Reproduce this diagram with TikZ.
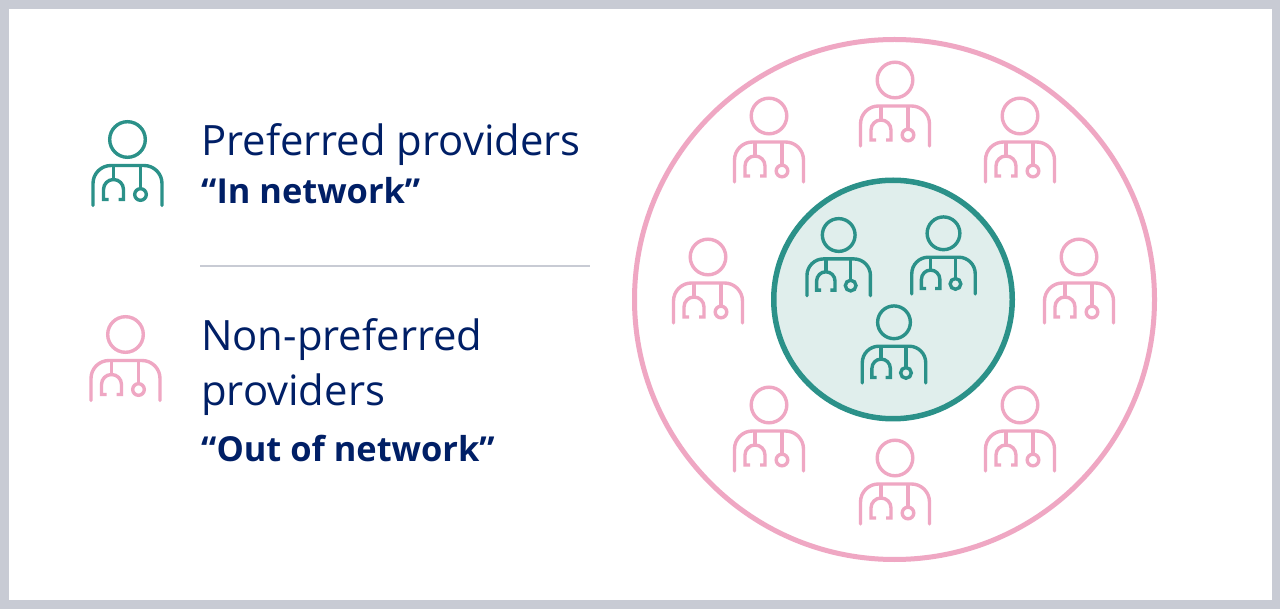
\documentclass[tikz,border=0pt]{standalone}
\usepackage{fontspec}
\setmainfont{Open Sans}
\definecolor{framegray}{HTML}{C8CBD4}
\definecolor{tealline}{HTML}{2B9189}
\definecolor{tealfill}{HTML}{E0EEEC}
\definecolor{pinkline}{HTML}{EFA7C3}
\definecolor{navytext}{HTML}{001F66}
\tikzset{
  doctor/.pic={
    \draw[line width=3.4pt] (0,0) circle (17.8);
    \draw[line width=3.4pt, line cap=round]
      (-34.5,66) -- (-34.5,44) arc[start angle=180, end angle=270, radius=18]
      -- (16.5,26) arc[start angle=270, end angle=360, radius=18] -- (34.5,66);
    \draw[line width=3.4pt] (-14,26) -- (-14,40);
    \draw[line width=3.4pt]
      (-19,60) -- (-24,60) -- (-24,50) arc[start angle=180, end angle=360, radius=10]
      -- (-4,60) -- (-9,60);
    \draw[line width=3.4pt] (13,26) -- (13,49);
    \draw[line width=3.4pt] (13,55) circle (5.8);
  },
  lighttext/.style={anchor=base west, inner sep=0pt, text=navytext, font=\fontsize{41.8}{41.8}\selectfont},
  boldtext/.style={anchor=base west, inner sep=0pt, text=navytext, font=\fontsize{34.4}{34.4}\selectfont\bfseries},
  ring/.style={circle, inner sep=0pt, outer sep=0pt}
}
\begin{document}
\begin{tikzpicture}[x=1pt, y=-1pt]
  \useasboundingbox (0,0) rectangle (1280,609);
  \fill[framegray] (0,0) rectangle (1280,609);
  \fill[white] (9,9) rectangle (1272,600);

  % legend
  \pic[draw=tealline] (legendin) at (127.5,139.5) {doctor};
  \pic[draw=pinkline] (legendout) at (125.5,334.5) {doctor};
  \node[lighttext] (preferred) at (201,156) {Preferred providers};
  \node[boldtext] (innetwork) at (201,203.5) {“In network”};
  \coordinate (ruleleft) at (200,266);
  \coordinate (ruleright) at (590,266);
  \draw[framegray, line width=1.5pt] (ruleleft) -- (ruleright);
  \node[lighttext] (nonpreferred) at (201,350.5) {Non-preferred};
  \node[lighttext] (providers) at (201,405.5) {providers};
  \node[boldtext] (outnetwork) at (201,461.5) {“Out of network”};

  % circles
  \node[ring, draw=pinkline, line width=5pt, minimum size=520pt] (outerring) at (894.5,299.5) {};
  \node[ring, draw=tealline, fill=tealfill, line width=5.5pt, minimum size=238.5pt] (innerring) at (893,299.5) {};

  % non-preferred providers
  \foreach \px/\py [count=\i] in {895/80, 769/116, 1020/116, 708/257, 1079/257, 769/405, 1020/405, 895/458}
    \pic[draw=pinkline] (out\i) at (\px,\py) {doctor};

  % preferred providers
  \foreach \px/\py [count=\i] in {838.7/235, 943.5/233.3, 894/322.3}
    \pic[draw=tealline, scale=0.92] (in\i) at (\px,\py) {doctor};
\end{tikzpicture}
\end{document}
